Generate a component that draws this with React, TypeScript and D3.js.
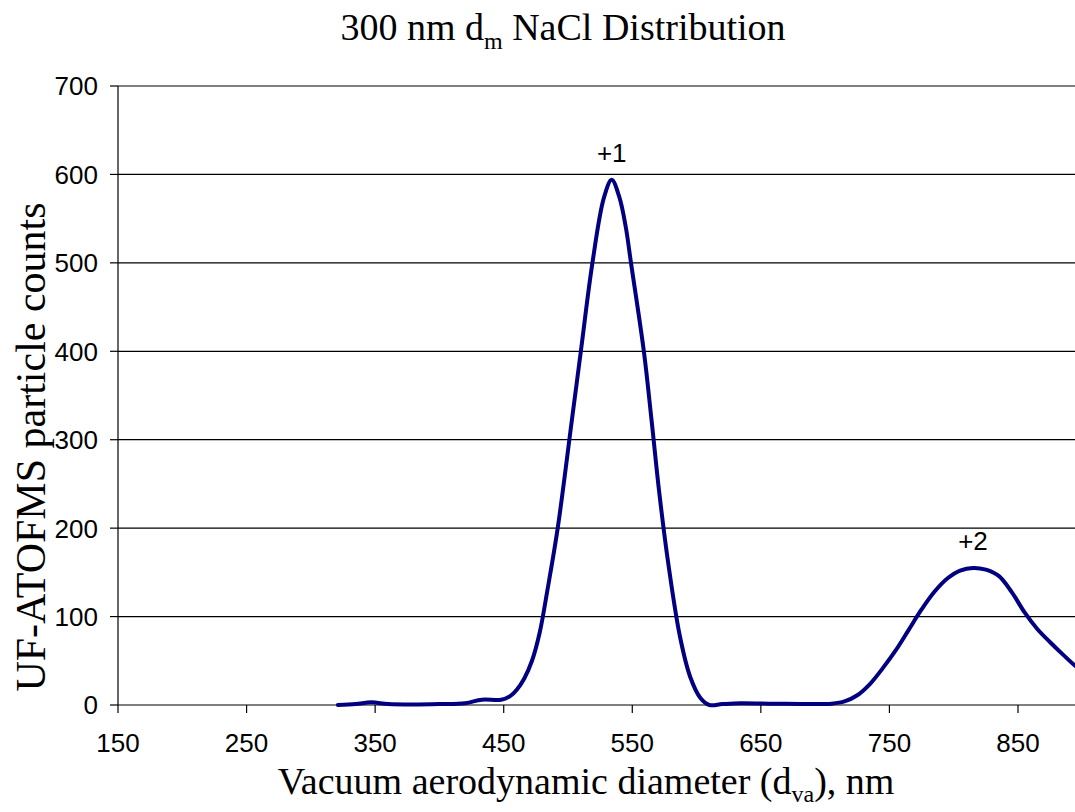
import React from "react";
import * as d3 from "d3";

// Particle size distribution: vacuum aerodynamic diameter (nm) vs. counts
const diameters = [
  321, 335, 347, 360, 380, 400, 420, 433, 448, 455, 460, 466, 472, 478, 484,
  492, 503, 510, 519, 528, 534, 540, 545, 549, 559, 565, 571, 578, 587, 595,
  603, 610, 620, 634, 660, 690, 705, 715, 725, 735, 745, 755, 765, 775, 785,
  795, 805, 815, 825, 835, 845, 855, 865, 875, 885, 894, 905,
];
const counts = [
  0, 1, 3, 1, 0.5, 1, 2, 6, 6, 10, 17, 30, 50, 82, 130,
  200, 322, 400, 500, 574, 594, 574, 540, 500, 400, 322, 240, 160, 78, 32,
  8, 0, 1, 2, 1.5, 1, 1.5, 4, 11, 24, 42, 62, 85, 108, 128,
  143, 152, 155, 153, 146, 128, 105, 86, 71, 57, 45, 33,
];

const xTicks = [150, 250, 350, 450, 550, 650, 750, 850];
const yTicks = [0, 100, 200, 300, 400, 500, 600, 700];

const peakLabels = [
  { text: "+1", at: 534, value: 594 },
  { text: "+2", at: 815, value: 155 },
];

const W = 1075;
const H = 812;
const left = 118;
const top = 86;
const bottom = 705;

export default function App() {
  const x = d3.scaleLinear().domain([150, 950]).range([left, left + 800 * 1.2857]);
  const y = d3.scaleLinear().domain([0, 700]).range([bottom, top]);
  const pts: [number, number][] = diameters.map((d, i) => [d, counts[i]]);
  const line = d3
    .line<[number, number]>()
    .x((d) => x(d[0]))
    .y((d) => y(d[1]))
    .curve(d3.curveCatmullRom.alpha(0.5));

  const serif = "'Liberation Serif', 'Times New Roman', serif";
  const sans = "'Liberation Sans', Arial, sans-serif";

  return (
    <svg
      width={W}
      height={H}
      style={{ position: "absolute", left: 0, top: 0, background: "#fff" }}
    >
      <rect x={0} y={0} width={W} height={H} fill="#fff" />
      {/* horizontal gridlines */}
      {yTicks.map((t) => (
        <line
          key={"g" + t}
          x1={left}
          x2={W}
          y1={y(t)}
          y2={y(t)}
          stroke="#000"
          strokeWidth={1.2}
        />
      ))}
      {/* y axis */}
      <line x1={left} x2={left} y1={top} y2={bottom} stroke="#000" strokeWidth={1.2} />
      {yTicks.map((t) => (
        <g key={"y" + t}>
          <line x1={left - 8} x2={left} y1={y(t)} y2={y(t)} stroke="#000" strokeWidth={1.2} />
          <text
            x={left - 20}
            y={y(t)}
            dy="0.36em"
            textAnchor="end"
            fontFamily={sans}
            fontSize={26}
            fill="#000"
          >
            {t}
          </text>
        </g>
      ))}
      {/* x axis ticks */}
      {xTicks.map((t) => (
        <g key={"x" + t}>
          <line x1={x(t)} x2={x(t)} y1={bottom} y2={bottom + 8} stroke="#000" strokeWidth={1.2} />
          <text
            x={x(t)}
            y={752}
            textAnchor="middle"
            fontFamily={sans}
            fontSize={26}
            fill="#000"
          >
            {t}
          </text>
        </g>
      ))}
      {/* distribution curve */}
      <path
        d={line(pts) || ""}
        fill="none"
        stroke="#000080"
        strokeWidth={4}
        strokeLinejoin="round"
        strokeLinecap="round"
      />
      {peakLabels.map((p) => (
        <text
          key={p.text}
          x={x(p.at)}
          y={y(p.value) - 18}
          textAnchor="middle"
          fontFamily={sans}
          fontSize={26}
          fill="#000"
        >
          {p.text}
        </text>
      ))}
      {/* titles */}
      <text x={563} y={40} textAnchor="middle" fontFamily={serif} fontSize={38} fill="#000">
        300 nm d
        <tspan fontSize={24} dy={9}>m</tspan>
        <tspan dy={-9}> NaCl Distribution</tspan>
      </text>
      <text x={586} y={794} textAnchor="middle" fontFamily={serif} fontSize={38} fill="#000">
        Vacuum aerodynamic diameter (d
        <tspan fontSize={24} dy={8}>va</tspan>
        <tspan dy={-8}>), nm</tspan>
      </text>
      <text
        transform={`translate(45, 447) rotate(-90)`}
        textAnchor="middle"
        fontFamily={serif}
        fontSize={42}
        fill="#000"
      >
        UF-ATOFMS particle counts
      </text>
    </svg>
  );
}
